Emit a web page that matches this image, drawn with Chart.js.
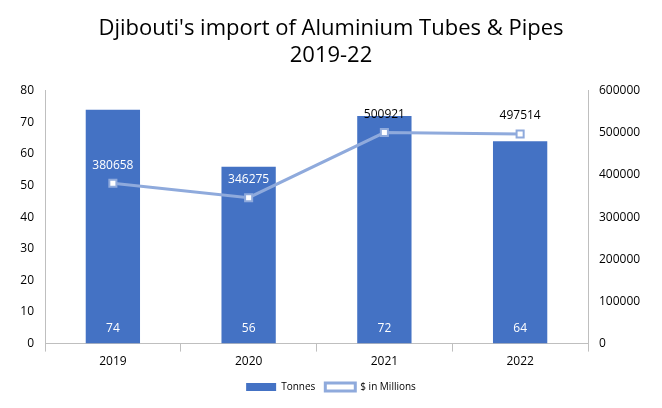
<!DOCTYPE html>
<html>
<head>
<meta charset="utf-8">
<script src="https://cdn.jsdelivr.net/npm/chart.js@4"></script>
<style>
  body { margin: 0; background: #fff; }
  #wrap { width: 662px; height: 408px; }
</style>
</head>
<body>
<div id="wrap"><canvas id="c"></canvas></div>
<script>
// Chart data
const years = ['2019', '2020', '2021', '2022'];
const tonnes = [74, 56, 72, 64];
const dollars = [380658, 346275, 500921, 497514];

Chart.defaults.font.family = "'Open Sans', 'Liberation Sans', sans-serif";
Chart.defaults.color = '#000';

// draws the value labels (bar values at the bottom, line values above points)
const valueLabels = {
    id: 'valueLabels',
    afterDatasetsDraw(chart) {
        const c = chart.ctx;
        c.save();
        c.font = "12px 'Open Sans', sans-serif";
        c.textAlign = 'center';
        c.textBaseline = 'middle';
        const bottom = chart.scales.y.bottom;
        chart.getDatasetMeta(0).data.forEach((bar, i) => {
            c.fillStyle = '#fff';
            c.fillText(tonnes[i], bar.x, bottom - 15);
        });
        chart.getDatasetMeta(1).data.forEach((pt, i) => {
            const ly = pt.y - 18;
            const barTop = chart.getDatasetMeta(0).data[i].y;
            c.fillStyle = ly > barTop + 6 ? '#fff' : '#000';
            c.fillText(dollars[i], pt.x, ly);
        });
        c.restore();
    }
};

new Chart(document.getElementById('c'), {
    data: {
        labels: years,
        datasets: [{
            type: 'bar',
            label: 'Tonnes',
            data: tonnes,
            backgroundColor: '#4472C4',
            borderColor: '#4472C4',
            yAxisID: 'y',
            barPercentage: 0.4,
            categoryPercentage: 1,
            order: 2
        }, {
            type: 'line',
            label: '$ in Millions',
            data: dollars,
            borderColor: '#8FAADC',
            backgroundColor: '#fff',
            borderWidth: 3,
            pointStyle: 'rect',
            pointRadius: 5,
            pointBackgroundColor: '#fff',
            pointBorderColor: '#8FAADC',
            pointBorderWidth: 2,
            yAxisID: 'y1',
            order: 1
        }]
    },
    options: {
        responsive: true,
        maintainAspectRatio: false,
        animation: false,
        layout: { padding: { top: 12, left: 4, right: 4, bottom: 6 } },
        plugins: {
            title: {
                display: true,
                text: ["Djibouti's import of Aluminium Tubes & Pipes", '2019-22'],
                font: { size: 22, weight: 'normal' },
                padding: { top: 4, bottom: 22 },
                lineHeight: 1.5
            },
            legend: {
                position: 'bottom',
                labels: {
                    font: { size: 10 },
                    boxWidth: 30,
                    boxHeight: 8,
                    sort: (a, b) => a.datasetIndex - b.datasetIndex
                }
            },
            tooltip: { enabled: false }
        },
        scales: {
            x: {
                grid: { display: true, drawOnChartArea: false, offset: true, color: '#bfbfbf' },
                border: { color: '#bfbfbf' },
                ticks: { font: { size: 12 } }
            },
            y: {
                position: 'left',
                min: 0, max: 80,
                ticks: { stepSize: 10, font: { size: 12 } },
                grid: { display: false },
                border: { color: '#bfbfbf' },
                afterFit(s) { s.width = 41; }
            },
            y1: {
                position: 'right',
                min: 0, max: 600000,
                ticks: { stepSize: 100000, font: { size: 12 }, callback: v => String(v) },
                grid: { display: false },
                border: { color: '#bfbfbf' },
                afterFit(s) { s.width = 70; }
            }
        }
    },
    plugins: [valueLabels]
});
</script>
</body>
</html>
